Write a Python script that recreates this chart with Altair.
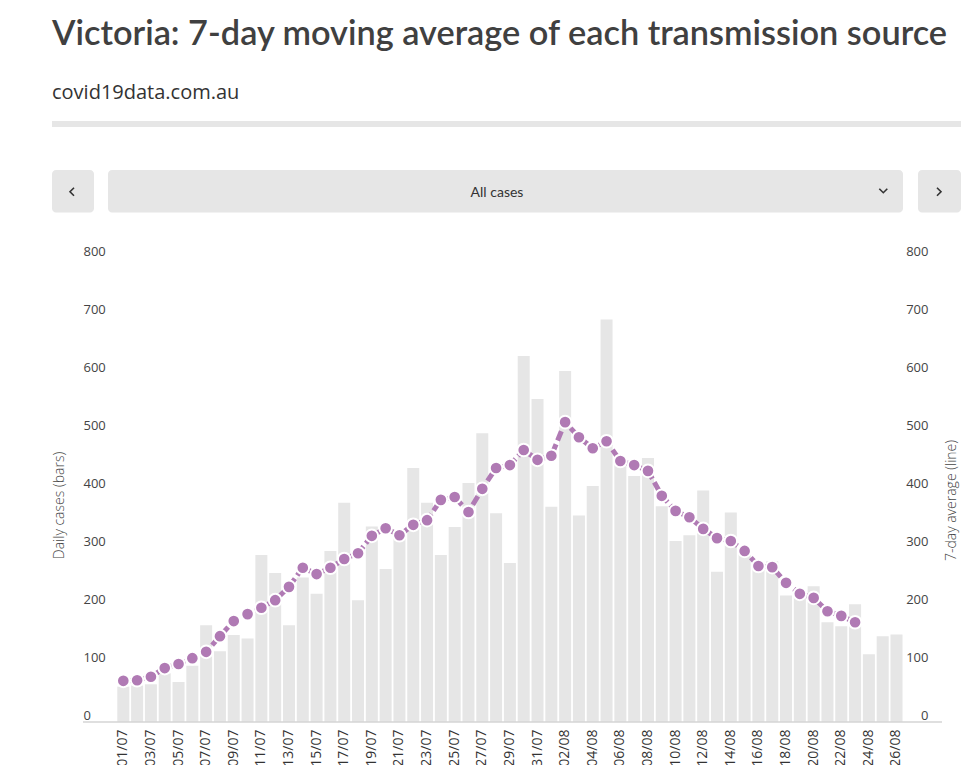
import altair as alt
import pandas as pd

dates = [
    "01/07", "02/07", "03/07", "04/07", "05/07", "06/07", "07/07", "08/07", "09/07", "10/07",
    "11/07", "12/07", "13/07", "14/07", "15/07", "16/07", "17/07", "18/07", "19/07", "20/07",
    "21/07", "22/07", "23/07", "24/07", "25/07", "26/07", "27/07", "28/07", "29/07", "30/07",
    "31/07", "01/08", "02/08", "03/08", "04/08", "05/08", "06/08", "07/08", "08/08", "09/08",
    "10/08", "11/08", "12/08", "13/08", "14/08", "15/08", "16/08", "17/08", "18/08", "19/08",
    "20/08", "21/08", "22/08", "23/08", "24/08", "25/08", "26/08",
]

daily_cases = [
    61, 63, 65, 84, 69, 97, 167, 122, 150, 144,
    288, 257, 167, 249, 221, 295, 378, 210, 337, 264,
    318, 438, 378, 288, 336, 412, 498, 360, 274, 631,
    557, 371, 605, 356, 407, 694, 446, 424, 455, 372,
    312, 322, 399, 259, 361, 300, 265, 277, 218, 215,
    234, 172, 165, 203, 117, 148, 151,
]

avg_dates = dates[:54]
seven_day_avg = [
    71, 72, 78, 93, 100, 110, 121, 148, 174, 186,
    197, 210, 233, 266, 255, 266, 281, 291, 321, 334,
    322, 340, 348, 383, 388, 362, 402, 438, 443, 469,
    452, 459, 517, 491, 472, 484, 450, 443, 433, 390,
    364, 353, 333, 317, 312, 295, 269, 267, 240, 221,
    214, 191, 183, 172,
]

y_ticks = [0, 100, 200, 300, 400, 500, 600, 700, 800]
x_label_dates = dates[::2]

TITLE = "Victoria: 7-day moving average of each transmission source"
SUBTITLE = "covid19data.com.au"
DROPDOWN = "All cases"

W, H = 787, 464
PURPLE = "#b07ab4"
BAR_GREY = "#e6e6e6"
LABEL_FONT = "Open Sans"
HEAD_FONT = "Lato"

bars_df = pd.DataFrame({"date": dates, "cases": daily_cases})
avg_df = pd.DataFrame({"date": avg_dates, "avg": seven_day_avg})

x_enc = alt.X(
    "date:N",
    sort=dates,
    scale=alt.Scale(domain=dates, paddingInner=0.13, paddingOuter=0.065),
    axis=alt.Axis(
        values=x_label_dates, labelAngle=270, title=None, ticks=False, domain=False,
        grid=False, labelPadding=7, labelFont=LABEL_FONT, labelFontSize=14,
        labelColor="#333333",
    ),
)

bars = alt.Chart(bars_df).mark_bar(color=BAR_GREY).encode(
    x=x_enc,
    y=alt.Y(
        "cases:Q",
        scale=alt.Scale(domain=[0, 800], nice=False),
        axis=alt.Axis(
            orient="left", values=y_ticks, grid=False, ticks=False, domain=False,
            labelAlign="left", labelBaseline="bottom", labelPadding=33.4,
            labelFont=LABEL_FONT, labelFontSize=13, labelColor="#444444",
            title="Daily cases (bars)", titleX=-57.4, titleY=247, titleAngle=270,
            titleAlign="center", titleBaseline="middle", titleFont=LABEL_FONT,
            titleFontSize=14, titleFontWeight=300, titleColor="#444444",
        ),
    ),
)

y_line = alt.Y(
    "avg:Q",
    scale=alt.Scale(domain=[0, 800], nice=False),
    axis=alt.Axis(
        orient="right", values=y_ticks, grid=False, ticks=False, domain=False,
        labelAlign="right", labelBaseline="bottom", labelPadding=24.6,
        labelFont=LABEL_FONT, labelFontSize=13, labelColor="#444444",
        title="7-day average (line)", titleX=48.3, titleY=242, titleAngle=270,
        titleAlign="center", titleBaseline="middle", titleFont=LABEL_FONT,
        titleFontSize=14, titleFontWeight=300, titleColor="#444444",
    ),
)

line = alt.Chart(avg_df).mark_line(
    color=PURPLE, strokeWidth=5, strokeDash=[10, 4]
).encode(x=alt.X("date:N", sort=dates), y=y_line)

points = alt.Chart(avg_df).mark_point(
    filled=True, fill=PURPLE, stroke="white", strokeWidth=2, size=160, opacity=1
).encode(x=alt.X("date:N", sort=dates), y=y_line)

avg_layer = alt.layer(line, points)

one = alt.Data(values=[{"k": 1}])

baseline = alt.Chart(one).mark_rule(color="#d4d4d4", strokeWidth=1.5).encode(
    x=alt.value(-33.4), x2=alt.value(825.6), y=alt.value(H)
)

title_txt = alt.Chart(one).mark_text(
    text=TITLE, font=HEAD_FONT, fontSize=34.3, fontWeight=600, color="#404040",
    align="left", baseline="alphabetic",
).encode(x=alt.value(-64.4), y=alt.value(-213))

subtitle_txt = alt.Chart(one).mark_text(
    text=SUBTITLE, font=LABEL_FONT, fontSize=20, fontWeight=500, color="#333333",
    align="left", baseline="alphabetic",
).encode(x=alt.value(-64.4), y=alt.value(-159))

separator = alt.Chart(one).mark_rect(color=BAR_GREY).encode(
    x=alt.value(-64.4), x2=alt.value(860), y=alt.value(-137), y2=alt.value(-131)
)

btn_prev = alt.Chart(one).mark_rect(color=BAR_GREY, cornerRadius=4).encode(
    x=alt.value(-64.4), x2=alt.value(-22.4), y=alt.value(-88), y2=alt.value(-45.5)
)
btn_drop = alt.Chart(one).mark_rect(color=BAR_GREY, cornerRadius=4).encode(
    x=alt.value(-8.4), x2=alt.value(786.6), y=alt.value(-88), y2=alt.value(-45.5)
)
btn_next = alt.Chart(one).mark_rect(color=BAR_GREY, cornerRadius=4).encode(
    x=alt.value(801.6), x2=alt.value(844.6), y=alt.value(-88), y2=alt.value(-45.5)
)

drop_txt = alt.Chart(one).mark_text(
    text=DROPDOWN, font=HEAD_FONT, fontSize=14, fontWeight=400, color="#333333",
    align="center", baseline="middle",
).encode(x=alt.value(380.6), y=alt.value(-65.5))

chev_left = alt.Chart(one).mark_point(
    shape="M0.5,-1L-0.5,0L0.5,1", filled=False, stroke="#333333", strokeWidth=1.6,
    size=64, opacity=1,
).encode(x=alt.value(-44.4), y=alt.value(-66.3))
chev_right = alt.Chart(one).mark_point(
    shape="M-0.5,-1L0.5,0L-0.5,1", filled=False, stroke="#333333", strokeWidth=1.6,
    size=64, opacity=1,
).encode(x=alt.value(822.6), y=alt.value(-66.3))
chev_down = alt.Chart(one).mark_point(
    shape="M-1,-0.5L0,0.5L1,-0.5", filled=False, stroke="#333333", strokeWidth=1.6,
    size=64, opacity=1,
).encode(x=alt.value(766.9), y=alt.value(-67.3))

chart = alt.layer(
    bars, avg_layer, baseline,
    title_txt, subtitle_txt, separator,
    btn_prev, btn_drop, btn_next, drop_txt, chev_left, chev_right, chev_down,
).resolve_scale(y="independent").properties(
    width=W, height=H,
    padding={"left": 108.4, "top": 250, "right": 57.6, "bottom": 43},
    autosize=alt.AutoSizeParams(type="none"),
    background="white",
).configure_view(stroke=None)

chart.save("out.html", embed_options={"renderer": "svg", "actions": False})
